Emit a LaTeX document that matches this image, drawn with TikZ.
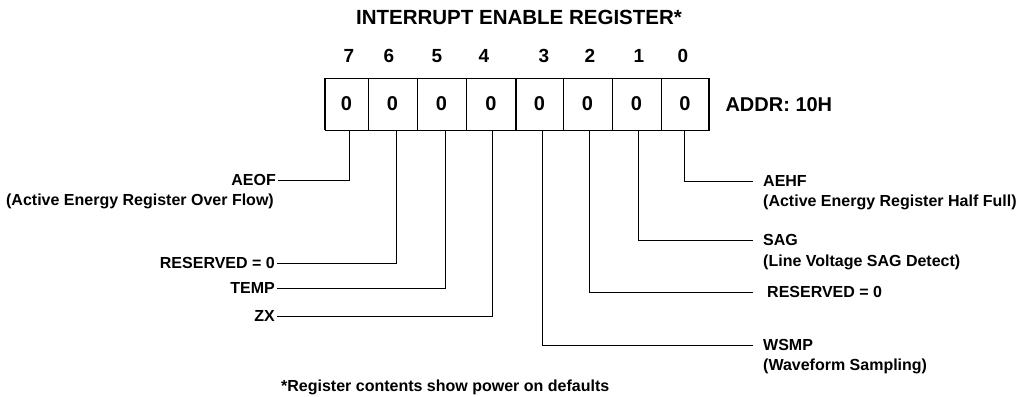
\documentclass[tikz,border=0pt]{standalone}
\usepackage{fontspec}
\setmainfont{Liberation Sans}
\usepackage{tikz}
\usetikzlibrary{positioning}

\begin{document}
\begin{tikzpicture}[
    x=1pt,y=-1pt,
    cell/.style={draw,line width=0.9pt,minimum height=52pt,inner sep=0pt,outer sep=0pt,font=\fontsize{20}{24}\selectfont\bfseries},
    bitno/.style={font=\fontsize{19}{23}\selectfont\bfseries},
    bar/.style={line width=2.6pt},
    lbl/.style={font=\fontsize{16}{19}\selectfont\bfseries,inner sep=2pt},
    llbl/.style={lbl,anchor=east},
    rlbl/.style={lbl,anchor=west,inner xsep=10pt},
    leader/.style={line width=1pt},
]
    \useasboundingbox (0,0) rectangle (1016,396);

    \node[font=\fontsize{20.5}{24}\selectfont\bfseries] (title) at (519,17) {INTERRUPT ENABLE REGISTER*};

    % bit numbers
    \node[bitno] (n7) at (349,56) {7};
    \node[bitno] (n6) at (389,56) {6};
    \node[bitno] (n5) at (437,56) {5};
    \node[bitno] (n4) at (484,56) {4};
    \node[bitno] (n3) at (544,56) {3};
    \node[bitno] (n2) at (590,56) {2};
    \node[bitno] (n1) at (639,56) {1};
    \node[bitno] (n0) at (683,56) {0};

    % register cells
    \node[cell,minimum width=43pt] (c7) at (346.5,104) {0};
    \node[cell,minimum width=49pt] (c6) at (392.5,104) {0};
    \node[cell,minimum width=49pt] (c5) at (441.5,104) {0};
    \node[cell,minimum width=50pt] (c4) at (491,104) {0};
    \node[cell,minimum width=47pt] (c3) at (539.5,104) {0};
    \node[cell,minimum width=49pt] (c2) at (587.5,104) {0};
    \node[cell,minimum width=49pt] (c1) at (636.5,104) {0};
    \node[cell,minimum width=48pt] (c0) at (685,104) {0};
    \draw[bar] (c7.north west) -- (c7.south west);
    \draw[bar] (c3.north west) -- (c3.south west);
    \draw[bar] (c0.north east) -- (c0.south east);

    \node[anchor=west,font=\fontsize{20}{24}\selectfont\bfseries] (addr) at (722,105) {ADDR: 10H};

    % leader ends on the register
    \coordinate (b7) at (349,130);
    \coordinate (b6) at (396,130);
    \coordinate (b5) at (445,130);
    \coordinate (b4) at (492,130);
    \coordinate (b3) at (542,130);
    \coordinate (b2) at (589,130);
    \coordinate (b1) at (638,130);
    \coordinate (b0) at (684,130);

    % left side
    \node[llbl] (aeof) at (278,180) {AEOF};
    \node[llbl] (aeofd) at (276,201) {(Active Energy Register Over Flow)};
    \node[llbl] (res6) at (277,263) {RESERVED = 0};
    \node[llbl] (temp) at (277,288) {TEMP};
    \node[llbl] (zx) at (277,316) {ZX};

    % right side
    \node[rlbl] (aehf) at (753,181) {AEHF};
    \node[lbl,anchor=west] (aehfd) at (761,202) {(Active Energy Register Half Full)};
    \node[rlbl] (sag) at (753,240) {SAG};
    \node[lbl,anchor=west] (sagd) at (761,262) {(Line Voltage SAG Detect)};
    \node[rlbl,inner xsep=14pt] (res2) at (753,292) {RESERVED = 0};
    \node[rlbl] (wsmp) at (753,345) {WSMP};
    \node[lbl,anchor=west] (wsmpd) at (761,366) {(Waveform Sampling)};

    \draw[leader] (aeof.east) -| (b7);
    \draw[leader] (res6.east) -| (b6);
    \draw[leader] (temp.east) -| (b5);
    \draw[leader] (zx.east) -| (b4);
    \draw[leader] (wsmp.west) -| (b3);
    \draw[leader] (res2.west) -| (b2);
    \draw[leader] (sag.west) -| (b1);
    \draw[leader] (aehf.west) -| (b0);

    \node[lbl,anchor=west] (note) at (279,387) {*Register contents show power on defaults};
\end{tikzpicture}
\end{document}
